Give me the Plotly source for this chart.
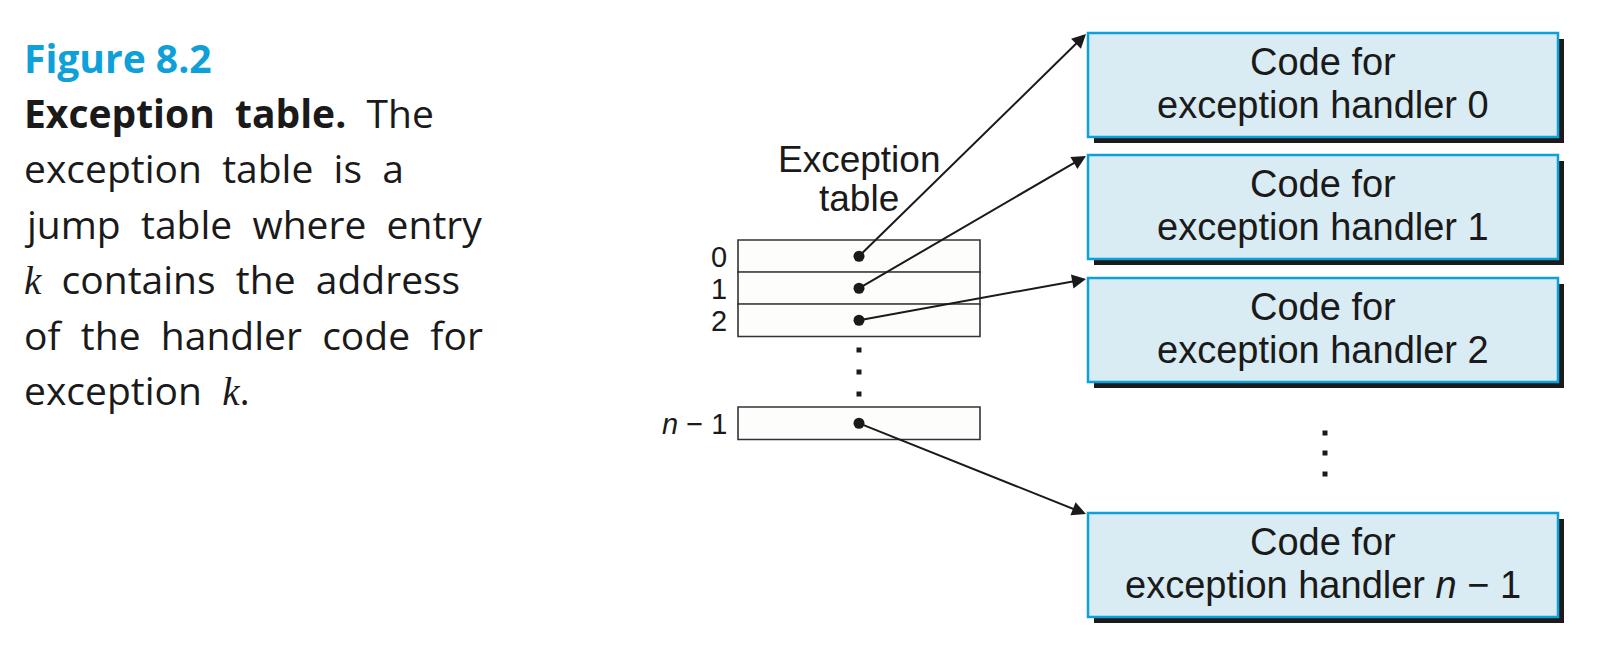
import plotly.graph_objects as go

# ---- diagram content ----
table_entries = ["0", "1", "2", "<i>n</i> − 1"]
handler_ids = ["0", "1", "2", "<i>n</i> − 1"]
table_title = ["Exception", "table"]
figure_label = "Figure 8.2"
caption_lines = [
    "<b>Exception  table.</b>  The",
    "exception  table  is  a",
    "jump  table  where  entry",
    "<K>  contains  the  address",
    "of  the  handler  code  for",
    "exception  <K>.",
]

# ---- geometry (pixel space, y down) ----
W, H = 1618, 652
PAGE_PAD = 8  # default body margin of the html page
TAB_X0, TAB_X1 = 738, 980
ROW_TOPS = [240, 272, 304, 407]
ROW_H = 32.5
DOT_X = 859
BOX_X0, BOX_X1 = 1088, 1558
BOX_TOPS = [33, 155, 278, 513]
BOX_H = 104
SHADOW = 6
LABEL_X = 729

BLUE = "#0ea0d8"
BOX_FILL = "#d9ebf3"
INK = "#1a1a1a"
SANS = "Liberation Sans, Arial, sans-serif"
CAPTION_FONT = "Open Sans, Noto Sans, sans-serif"
K = "<span style=\"font-family:'Liberation Serif'\"><i>k</i></span>"

fig = go.Figure()
shapes = []
annotations = []

# exception table rows
for top in ROW_TOPS:
    shapes.append(dict(type="rect", x0=TAB_X0, x1=TAB_X1, y0=top, y1=top + ROW_H,
                       line=dict(color="#333333", width=1.6), fillcolor="#fdfdfb",
                       layer="below"))

for top, lab in zip(ROW_TOPS, table_entries):
    annotations.append(dict(x=LABEL_X, y=top + ROW_H / 2 + 1, text=lab, showarrow=False,
                            xanchor="right", yanchor="middle",
                            font=dict(family=SANS, size=29, color=INK)))

annotations.append(dict(x=DOT_X, y=159, text=table_title[0], showarrow=False,
                        xanchor="center", yanchor="middle",
                        font=dict(family=SANS, size=37, color=INK)))
annotations.append(dict(x=DOT_X, y=198, text=table_title[1], showarrow=False,
                        xanchor="center", yanchor="middle",
                        font=dict(family=SANS, size=37, color=INK)))

# handler boxes with drop shadow
for top, hid in zip(BOX_TOPS, handler_ids):
    shapes.append(dict(type="rect", x0=BOX_X0 + SHADOW, x1=BOX_X1 + SHADOW,
                       y0=top + SHADOW, y1=top + BOX_H + SHADOW,
                       line=dict(width=0), fillcolor=INK, layer="below"))
    shapes.append(dict(type="rect", x0=BOX_X0, x1=BOX_X1, y0=top, y1=top + BOX_H,
                       line=dict(color=BLUE, width=2.5), fillcolor=BOX_FILL, layer="below"))
    cx = (BOX_X0 + BOX_X1) / 2
    annotations.append(dict(x=cx, y=top + 29, text="Code for", showarrow=False,
                            xanchor="center", yanchor="middle",
                            font=dict(family=SANS, size=38, color=INK)))
    annotations.append(dict(x=cx, y=top + 72, text="exception handler " + hid, showarrow=False,
                            xanchor="center", yanchor="middle",
                            font=dict(family=SANS, size=38, color=INK)))

# arrows from table entries to handler boxes
dot_ys = [t + ROW_H / 2 for t in ROW_TOPS]
for dy, top in zip(dot_ys, BOX_TOPS):
    annotations.append(dict(x=BOX_X0 - 2, y=top + 1, ax=DOT_X, ay=dy,
                            xref="x", yref="y", axref="x", ayref="y",
                            text="", showarrow=True, arrowhead=2, arrowsize=1.4,
                            arrowwidth=2, arrowcolor=INK))

fig.add_trace(go.Scatter(x=[DOT_X] * len(dot_ys), y=dot_ys, mode="markers",
                         marker=dict(size=11, color=INK), hoverinfo="skip"))

# ellipsis dots
fig.add_trace(go.Scatter(x=[DOT_X] * 3, y=[350, 372, 394], mode="markers",
                         marker=dict(size=5, color=INK, symbol="square"), hoverinfo="skip"))
fig.add_trace(go.Scatter(x=[1325] * 3, y=[433, 453, 474], mode="markers",
                         marker=dict(size=5, color=INK, symbol="square"), hoverinfo="skip"))

# caption on the left
annotations.append(dict(x=22, y=57, text="<b>" + figure_label + "</b>", showarrow=False,
                        xanchor="left", yanchor="middle",
                        font=dict(family=CAPTION_FONT, size=39, color=BLUE)))
for i, line in enumerate(caption_lines):
    annotations.append(dict(x=22, y=112 + i * 55.5, text=line.replace("<K>", K).replace("  ", " \u00a0"),
                            showarrow=False, xanchor="left", yanchor="middle",
                            font=dict(family=CAPTION_FONT, size=39, color=INK)))

fig.update_layout(
    width=W, height=H,
    margin=dict(l=0, r=0, t=0, b=0),
    paper_bgcolor="white", plot_bgcolor="white",
    showlegend=False,
    shapes=shapes, annotations=annotations,
    xaxis=dict(range=[PAGE_PAD, W + PAGE_PAD], visible=False, fixedrange=True),
    yaxis=dict(range=[H + PAGE_PAD, PAGE_PAD], visible=False, fixedrange=True),
)

fig.write_html("out.html")
